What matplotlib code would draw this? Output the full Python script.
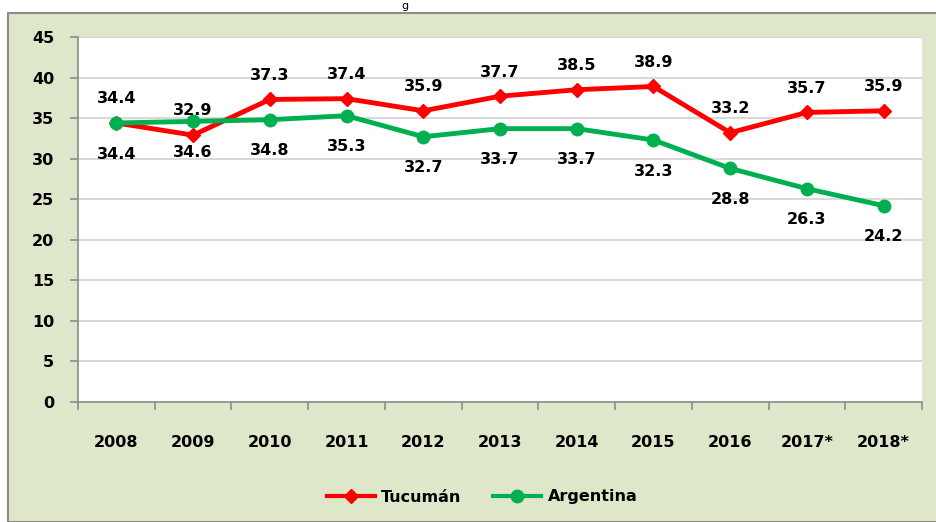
import matplotlib
matplotlib.use("Agg")
import matplotlib.pyplot as plt
from matplotlib.patches import Rectangle
from matplotlib.lines import Line2D

years = ["2008", "2009", "2010", "2011", "2012", "2013", "2014", "2015", "2016", "2017*", "2018*"]
tucuman = [34.4, 32.9, 37.3, 37.4, 35.9, 37.7, 38.5, 38.9, 33.2, 35.7, 35.9]
argentina = [34.4, 34.6, 34.8, 35.3, 32.7, 33.7, 33.7, 32.3, 28.8, 26.3, 24.2]

red = "#FF0000"
green = "#00B050"
bg = "#DFE7CA"
fs = 11.5

plt.rcParams["font.family"] = ["DejaVu Sans"]

fig = plt.figure(figsize=(9.36, 5.22), dpi=100)
W, H = 936, 522

# pale green chart area with grey border, white strip on top
fig.patches.append(Rectangle((8 / W, 0), 1, 1 - 13 / H, transform=fig.transFigure,
                             facecolor=bg, edgecolor="#8C8C8C", linewidth=1.5, zorder=-5))
fig.text(405 / W, 1 - 1 / H, "g", ha="center", va="top", fontsize=8)

ax = fig.add_axes([78 / W, 1 - 402 / H, (922 - 78) / W, (402 - 37) / H])
ax.set_facecolor("white")

x = list(range(len(years)))
ax.plot(x, tucuman, color=red, linewidth=3.5, marker="D", markersize=7, zorder=3)
ax.plot(x, argentina, color=green, linewidth=3.5, marker="o", markersize=9, zorder=3)

for i in x:
    ax.annotate(f"{tucuman[i]:.1f}", (i, tucuman[i]), xytext=(0, 12), textcoords="offset points",
                ha="center", va="bottom", fontsize=fs, fontweight="bold")
    ax.annotate(f"{argentina[i]:.1f}", (i, argentina[i]), xytext=(0, -17), textcoords="offset points",
                ha="center", va="top", fontsize=fs, fontweight="bold")

ax.set_xlim(-0.5, len(years) - 0.5)
ax.set_ylim(0, 45)
ax.set_yticks(range(0, 46, 5))
ax.set_xticks(x)
ax.set_xticklabels(years, fontsize=fs, fontweight="bold")
ax.set_xticks([i - 0.5 for i in range(len(years) + 1)], minor=True)
ax.tick_params(axis="x", which="major", length=0, pad=24)
ax.tick_params(axis="x", which="minor", length=6, color="#8C8C8C", width=1.2)
ax.tick_params(axis="y", length=6, color="#8C8C8C", width=1.2, pad=11, labelsize=fs)
for lab in ax.get_yticklabels():
    lab.set_fontweight("bold")
ax.grid(axis="y", color="#D9D9D9", linewidth=1.5)
ax.set_axisbelow(True)
for s in ["top", "right"]:
    ax.spines[s].set_visible(False)
for s in ["left", "bottom"]:
    ax.spines[s].set_color("#8C8C8C")
    ax.spines[s].set_linewidth(1.2)

handles = [Line2D([], [], color=red, linewidth=3, marker="D", markersize=7),
           Line2D([], [], color=green, linewidth=3, marker="o", markersize=9)]
fig.legend(handles, ["Tucumán", "Argentina"], loc="center", bbox_to_anchor=(0.515, 1 - 497 / H),
           ncol=2, frameon=False, prop={"size": fs, "weight": "bold"},
           handlelength=3, columnspacing=2.0, handletextpad=0.4)

fig.savefig("out.png", dpi=100)
